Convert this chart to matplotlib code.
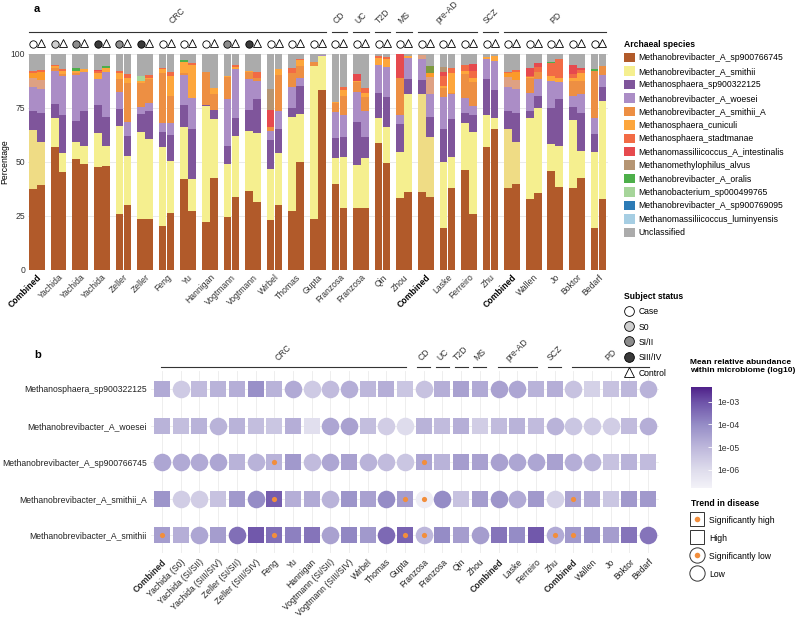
import numpy as np
import matplotlib
matplotlib.use('Agg')
from matplotlib import pyplot as plt
from matplotlib.lines import Line2D
from matplotlib.patches import Patch
from matplotlib.colors import LogNorm, LinearSegmentedColormap
from matplotlib.cm import ScalarMappable

plt.rcParams['font.family'] = ['Liberation Sans', 'DejaVu Sans']
plt.rcParams['font.size'] = 6.2

# ---------------- panel a data ----------------
species = ['Methanobrevibacter_A_sp900766745', 'Methanobrevibacter_A_smithii',
           'Methanosphaera_sp900322125', 'Methanobrevibacter_A_woesei',
           'Methanobrevibacter_A_smithii_A', 'Methanosphaera_cuniculi',
           'Methanosphaera_stadtmanae', 'Methanomassiliicoccus_A_intestinalis',
           'Methanomethylophilus_alvus', 'Methanobrevibacter_A_oralis',
           'Methanobacterium_sp000499765', 'Methanobrevibacter_A_sp900769095',
           'Methanomassiliicoccus_luminyensis', 'Unclassified']
codes = ['sp766', 'smi', 'sp322', 'woe', 'smiA', 'cun', 'sta', 'int', 'alv',
         'ora', 'sp499', 'sp769', 'lum']
species_colors = ['#b15a2a', '#f5ef8f', '#7f559b', '#ab8dc6', '#ed8f43', '#fda63c',
                  '#f26b45', '#e64a4e', '#b59573', '#4daf4a', '#a6d59a', '#2c7bb6',
                  '#a6cee3', '#ababab']
# combined bars are drawn a bit faded for some species
combined_colors = {'smi': '#efdc85', 'smiA': '#dea183', 'ora': '#7d9a3e', 'cun': '#fb9a29'}

a_labels = ['Combined', 'Yachida', 'Yachida', 'Yachida', 'Zeller', 'Zeller', 'Feng', 'Yu',
            'Hannigan', 'Vogtmann', 'Vogtmann', 'Wirbel', 'Thomas', 'Gupta', 'Franzosa',
            'Franzosa', 'Qin', 'Zhou', 'Combined', 'Laske', 'Ferreiro', 'Zhu', 'Combined',
            'Wallen', 'Jo', 'Boktor', 'Bedarf']
case_status = ['Case', 'S0', 'SI/II', 'SIII/IV', 'SI/II', 'SIII/IV', 'Case', 'Case', 'Case',
               'SI/II', 'SIII/IV', 'Case', 'Case', 'Case', 'Case', 'Case', 'Case', 'Case',
               'Case', 'Case', 'Case', 'Case', 'Case', 'Case', 'Case', 'Case', 'Case']
disease_groups = [('CRC', 0, 13), ('CD', 14, 14), ('UC', 15, 15), ('T2D', 16, 16),
                  ('MS', 17, 17), ('pre-AD', 18, 20), ('SCZ', 21, 21), ('PD', 22, 26)]

# cumulative top (%) of each species in the stack; the rest up to 100 is Unclassified
case_tops = [
    {'sp766': 37.7, 'smi': 64.8, 'sp322': 73.6, 'woe': 84.9, 'smiA': 89.0, 'cun': 91.0, 'sta': 92.3},
    {'sp766': 57.1, 'smi': 70.2, 'sp322': 76.9, 'woe': 92.3, 'smiA': 93.7, 'cun': 94.4, 'sta': 95.0},
    {'sp766': 51.2, 'smi': 59.4, 'sp322': 69.0, 'woe': 90.3, 'smiA': 91.2, 'cun': 92.3, 'ora': 93.4},
    {'sp766': 47.5, 'smi': 63.3, 'sp322': 76.4, 'woe': 88.3, 'cun': 91.0, 'sta': 92.0, 'int': 92.6},
    {'sp766': 25.9, 'smi': 66.7, 'sp322': 74.5, 'woe': 82.6, 'smiA': 88.3, 'cun': 91.4, 'sta': 92.0},
    {'sp766': 23.8, 'smi': 63.7, 'sp322': 72.2, 'woe': 75.6, 'smiA': 86.4, 'cun': 87.7, 'sp499': 90.0},
    {'sp766': 20.4, 'smi': 56.8, 'sp322': 64.0, 'woe': 68.2, 'smiA': 91.0, 'cun': 92.9, 'sta': 93.7},
    {'sp766': 42.1, 'smi': 66.0, 'sp322': 76.4, 'woe': 90.3, 'smiA': 91.0, 'cun': 96.1, 'ora': 97.2},
    {'sp766': 22.1, 'smi': 75.9, 'sp322': 76.2, 'smiA': 91.8},
    {'sp766': 24.4, 'smi': 48.9, 'sp322': 57.3, 'woe': 79.2, 'smiA': 89.5, 'cun': 90.0},
    {'sp766': 36.7, 'smi': 64.4, 'sp322': 74.1, 'woe': 88.3, 'smiA': 91.8, 'cun': 92.3},
    {'sp766': 23.1, 'smi': 46.8, 'sp322': 60.2, 'woe': 64.5, 'smiA': 66.4, 'int': 74.1, 'alv': 83.6},
    {'sp766': 27.3, 'smi': 70.7, 'sp322': 74.8, 'woe': 84.6, 'smiA': 91.4, 'sta': 93.4},
    {'sp766': 23.6, 'smi': 94.6, 'smiA': 96.5},
    {'sp766': 39.7, 'smi': 52.0, 'sp322': 61.3, 'woe': 73.3, 'smiA': 77.2, 'cun': 77.6, 'sta': 77.9},
    {'sp766': 28.9, 'smi': 48.6, 'sp322': 68.7, 'woe': 82.3, 'smiA': 86.9, 'cun': 87.5, 'int': 90.7},
    {'sp766': 58.6, 'smi': 70.5, 'sp322': 81.8, 'woe': 94.9, 'cun': 98.0, 'sta': 99.1},
    {'sp766': 33.5, 'smi': 54.5, 'sp322': 67.6, 'woe': 71.8, 'smiA': 89.0, 'int': 100.0},
    {'sp766': 36.0, 'smi': 81.3, 'sp322': 88.0, 'woe': 97.7, 'smiA': 99.5},
    {'sp766': 19.6, 'smi': 50.2, 'sp322': 65.3, 'woe': 79.9, 'smiA': 84.1, 'cun': 85.0, 'sta': 90.0, 'int': 91.5, 'alv': 93.8},
    {'sp766': 46.3, 'smi': 68.2, 'sp322': 72.5, 'woe': 79.5, 'smiA': 90.7, 'cun': 92.3, 'sta': 94.9},
    {'sp766': 57.1, 'smi': 71.8, 'sp322': 88.4, 'woe': 97.7, 'cun': 98.8},
    {'sp766': 37.8, 'smi': 65.1, 'sp322': 73.6, 'woe': 84.9, 'smiA': 89.2, 'cun': 91.0, 'sta': 91.8},
    {'sp766': 32.9, 'smi': 70.2, 'sp322': 73.8, 'woe': 81.8, 'smiA': 88.7, 'cun': 89.2, 'sta': 89.6, 'int': 93.4},
    {'sp766': 45.8, 'smi': 58.3, 'sp322': 75.2, 'woe': 87.5, 'cun': 89.8, 'sta': 95.7, 'ora': 96.5},
    {'sp766': 38.1, 'smi': 69.4, 'sp322': 75.3, 'woe': 80.7, 'smiA': 87.5, 'cun': 89.0, 'sta': 90.7, 'int': 94.9},
    {'sp766': 19.6, 'smi': 54.8, 'sp322': 63.0, 'woe': 70.5, 'smiA': 92.1, 'ora': 93.0},
]
ctrl_tops = [
    {'sp766': 39.5, 'smi': 59.4, 'sp322': 72.8, 'woe': 83.6, 'smiA': 88.0, 'cun': 91.5, 'sta': 92.6},
    {'sp766': 45.4, 'smi': 54.3, 'sp322': 71.8, 'woe': 90.0, 'smiA': 90.8, 'cun': 92.3, 'sta': 92.9},
    {'sp766': 49.1, 'smi': 57.4, 'sp322': 73.6, 'woe': 91.8, 'cun': 93.1},
    {'sp766': 48.1, 'smi': 57.4, 'sp322': 70.7, 'woe': 91.8, 'cun': 93.7, 'ora': 94.4},
    {'sp766': 29.9, 'smi': 52.8, 'sp322': 62.0, 'woe': 68.7, 'smiA': 86.7, 'cun': 88.7, 'sta': 90.7},
    {'sp766': 23.8, 'smi': 60.5, 'sp322': 73.6, 'woe': 77.2, 'smiA': 88.3, 'cun': 89.0, 'sta': 90.3},
    {'sp766': 26.5, 'smi': 50.5, 'sp322': 62.5, 'woe': 67.9, 'smiA': 80.6, 'cun': 89.8, 'sta': 91.5},
    {'sp766': 27.3, 'smi': 42.1, 'sp322': 65.3, 'woe': 79.5, 'cun': 94.9, 'sta': 95.7},
    {'sp766': 42.7, 'smi': 69.9, 'sp322': 74.1, 'smiA': 81.3, 'cun': 84.1},
    {'sp766': 33.6, 'smi': 62.0, 'sp322': 70.2, 'woe': 93.1, 'cun': 94.0, 'sta': 95.0},
    {'sp766': 31.3, 'smi': 63.6, 'sp322': 79.2, 'woe': 87.7, 'smiA': 88.7, 'sta': 91.8},
    {'sp766': 29.9, 'smi': 54.3, 'sp322': 65.3, 'woe': 73.6, 'smiA': 90.3, 'cun': 92.9},
    {'sp766': 50.2, 'smi': 72.1, 'sp322': 85.3, 'woe': 89.0, 'smiA': 94.6, 'cun': 97.2, 'sta': 97.8},
    {'sp766': 83.3, 'smi': 99.2, 'woe': 99.6},
    {'sp766': 28.5, 'smi': 52.5, 'sp322': 61.4, 'woe': 71.8, 'smiA': 80.7, 'cun': 83.3, 'sta': 84.9},
    {'sp766': 28.9, 'smi': 51.9, 'sp322': 61.7, 'woe': 73.6, 'smiA': 80.2, 'cun': 82.1, 'sta': 84.1},
    {'sp766': 49.4, 'smi': 66.0, 'sp322': 80.2, 'woe': 94.1, 'cun': 97.5, 'sta': 98.8},
    {'sp766': 36.0, 'smi': 81.3, 'sp322': 88.3, 'woe': 98.0, 'cun': 99.2},
    {'sp766': 33.6, 'smi': 61.7, 'sp322': 70.7, 'woe': 81.5, 'smiA': 89.2, 'cun': 91.0, 'ora': 94.4},
    {'sp766': 38.0, 'smi': 52.2, 'sp322': 69.8, 'woe': 81.3, 'smiA': 82.0, 'cun': 91.0, 'sta': 93.4},
    {'sp766': 25.9, 'smi': 63.7, 'sp322': 71.8, 'woe': 75.9, 'smiA': 86.9, 'cun': 89.0, 'sta': 92.0, 'int': 95.4},
    {'sp766': 65.3, 'smi': 70.2, 'sp322': 83.3, 'woe': 96.8, 'cun': 99.0},
    {'sp766': 39.7, 'smi': 59.4, 'sp322': 72.8, 'woe': 83.8, 'smiA': 88.0, 'cun': 91.5, 'sta': 92.6},
    {'sp766': 35.8, 'smi': 74.8, 'sp322': 80.7, 'woe': 88.4, 'smiA': 91.8, 'sta': 94.1, 'int': 95.7},
    {'sp766': 38.3, 'smi': 57.6, 'sp322': 79.2, 'woe': 86.9, 'cun': 88.7, 'sta': 97.7},
    {'sp766': 42.7, 'smi': 55.1, 'sp322': 72.8, 'woe': 81.3, 'smiA': 87.5, 'cun': 91.0, 'sta': 92.6, 'int': 93.4},
    {'sp766': 32.9, 'smi': 78.4, 'sp322': 84.9, 'woe': 90.3, 'smiA': 94.6},
]

# ---------------- panel b data ----------------
b_labels = ['Combined', 'Yachida (S0)', 'Yachida (SI/SII)', 'Yachida (SIII/SIV)',
            'Zeller (SI/SII)', 'Zeller (SIII/SIV)', 'Feng', 'Yu', 'Hannigan',
            'Vogtmann (SI/SII)', 'Vogtmann (SIII/SIV)', 'Wirbel', 'Thomas', 'Gupta',
            'Franzosa', 'Franzosa', 'Qin', 'Zhou', 'Combined', 'Laske', 'Ferreiro', 'Zhu',
            'Combined', 'Wallen', 'Jo', 'Boktor', 'Bedarf']
b_species = ['Methanosphaera_sp900322125', 'Methanobrevibacter_A_woesei',
             'Methanobrevibacter_A_sp900766745', 'Methanobrevibacter_A_smithii_A',
             'Methanobrevibacter_A_smithii']
# H = higher in disease (square), L = lower in disease (circle)
trend_sp322 = 'HLHHHHHLLLLHHHLHHHLLHHLHHHL'
trend_woesei = 'HHHLHHHHHLLHLLHHHHHHHLLLLHL'
trend_sp766 = 'LLLLHLHHLLHLLLHHHHLLLHLLHHH'
trend_smithiiA = 'HLLHHLHHHLHHLHLLHHLLHLHHHHH'
trend_smithii = 'HHLHLHHHHLHHLHLHHLHHHLHHHHL'
# log10 of mean relative abundance
abund_sp322 = [-4.7, -5.5, -5.1, -4.9, -4.8, -4.1, -4.9, -4.7, -5.5, -5.1, -4.8, -5.0, -4.8,
               -5.4, -5.3, -4.8, -4.5, -4.7, -4.5, -4.6, -4.9, -4.8, -5.3, -5.7, -5.3, -5.0, -4.9]
abund_woesei = [-4.9, -5.2, -4.9, -4.9, -4.9, -5.2, -5.4, -4.8, -6.1, -4.6, -4.5, -5.2, -5.6,
                -6.0, -4.9, -5.1, -4.8, -5.6, -5.1, -4.9, -5.1, -4.9, -5.4, -5.5, -5.6, -5.1, -4.8]
abund_sp766 = [-4.6, -4.7, -4.7, -4.6, -4.9, -4.9, -4.9, -4.3, -5.1, -4.6, -4.5, -4.9, -5.1,
               -5.4, -4.6, -4.9, -4.4, -4.5, -4.5, -4.6, -4.6, -4.5, -4.8, -4.9, -5.3, -4.9, -5.1]
abund_smithiiA = [-4.2, -5.6, -5.6, -5.3, -4.3, -4.0, -3.2, -4.8, -4.7, -4.9, -4.2, -4.5, -4.0,
                  -4.4, -6.6, -4.0, -5.3, -4.4, -4.2, -4.7, -4.3, -5.7, -4.5, -4.7, -5.4, -4.3, -4.3]
abund_smithii = [-4.4, -4.8, -4.6, -4.4, -3.5, -3.1, -3.5, -3.8, -3.6, -4.5, -3.9, -4.3, -3.4,
                 -3.3, -5.0, -4.0, -4.4, -4.4, -3.6, -4.0, -3.1, -4.7, -4.3, -4.0, -4.4, -3.6, -3.6]
# columns where the trend is significant
sig_sp322 = []
sig_woesei = []
sig_sp766 = [6, 14]
sig_smithiiA = [6, 13, 14, 22]
sig_smithii = [0, 6, 13, 14, 21, 22]

W, H = 798, 619
fig = plt.figure(figsize=(W / 100, H / 100), dpi=100)


def px_axes(x0, y0, x1, y1):
    return fig.add_axes([x0 / W, 1 - y1 / H, (x1 - x0) / W, (y1 - y0) / H])


# ================= panel a =================
ax = px_axes(28, 54, 608, 270)
n = len(a_labels)
bw = 0.355
off = 0.185
status_fill = {'Case': 'white', 'S0': '#cfcfcf', 'SI/II': '#8c8c8c', 'SIII/IV': '#3a3a3a'}


def draw_stack(x, tops, combined):
    prev = 0
    for code, col in zip(codes, species_colors):
        if code in tops:
            c = combined_colors.get(code, col) if combined else col
            ax.bar(x, tops[code] - prev, bottom=prev, width=bw, color=c, lw=0, zorder=2)
            prev = tops[code]
    if prev < 100:
        ax.bar(x, 100 - prev, bottom=prev, width=bw, color=species_colors[-1], lw=0, zorder=2)


for g in range(n):
    comb = a_labels[g] == 'Combined'
    draw_stack(g - off, case_tops[g], comb)
    draw_stack(g + off, ctrl_tops[g], comb)
    ax.plot(g - off, 104.7, marker='o', ms=5.3, mfc=status_fill[case_status[g]], mec='black',
            mew=0.6, clip_on=False, ls='')
    ax.plot(g + off, 104.9, marker='^', ms=5.8, mfc='white', mec='black', mew=0.6,
            clip_on=False, ls='')

ax.set_xlim(-0.42, 26.44)
ax.set_ylim(0, 100)
ax.set_yticks([0, 25, 50, 75, 100])
ax.yaxis.grid(True, color='#e6e6e6', lw=0.6, zorder=0)
ax.set_axisbelow(True)
for s in ax.spines.values():
    s.set_visible(False)
ax.tick_params(axis='both', length=0, pad=2, labelcolor='#333333')
ax.set_xticks(np.arange(n))
ax.set_xticklabels(a_labels, rotation=45, ha='right', rotation_mode='anchor')
for t in ax.get_xticklabels():
    if t.get_text() == 'Combined':
        t.set_fontweight('bold')
        t.set_color('black')
ax.set_ylabel('Percentage', labelpad=1)

for name, g0, g1 in disease_groups:
    x0 = g0 - off - bw / 2
    x1 = g1 + off + bw / 2
    ax.plot([x0, x1], [110.2, 110.2], color='#333333', lw=0.8, clip_on=False)
    ax.text((x0 + x1) / 2, 113.2, name, rotation=45, ha='center', va='bottom',
            color='#333333', clip_on=False)

fig.text(34 / W, 1 - 9 / H, 'a', fontsize=8, fontweight='bold', va='center')

# species legend
sp_handles = [Patch(facecolor=c, edgecolor='none') for c in species_colors]
leg1 = fig.legend(sp_handles, species, loc='upper left', bbox_to_anchor=(624 / W, 1 - 40 / H),
                  frameon=False, borderpad=0, borderaxespad=0, handlelength=1.3,
                  handleheight=1.3, handletextpad=0.4, labelspacing=0.45,
                  title='Archaeal species', title_fontproperties={'weight': 'bold', 'size': 6.2},
                  alignment='left')

# subject status legend
st_handles = [Line2D([], [], marker='o', ms=7, mfc=status_fill[k], mec='black', mew=0.6, ls='')
              for k in ['Case', 'S0', 'SI/II', 'SIII/IV']]
st_handles.append(Line2D([], [], marker='^', ms=7.5, mfc='white', mec='black', mew=0.6, ls=''))
leg2 = fig.legend(st_handles, ['Case', 'S0', 'SI/II', 'SIII/IV', 'Control'], loc='upper left',
                  bbox_to_anchor=(624 / W, 1 - 292 / H), frameon=False, borderpad=0,
                  borderaxespad=0, handlelength=1.2, handleheight=1.2, handletextpad=0.5,
                  labelspacing=0.7, title='Subject status',
                  title_fontproperties={'weight': 'bold', 'size': 6.2}, alignment='left')

# ================= panel b =================
axb = px_axes(150.8, 370.75, 659.4, 553.25)
norm = LogNorm(vmin=10 ** -6.8, vmax=10 ** -2.35)
cmap = LinearSegmentedColormap.from_list(
    'pu', [(0.0, '#f3f2f8'), (0.18, '#dedcec'), (0.405, '#bdb7db'), (0.63, '#958cc6'),
           (0.85, '#6e53a9'), (1.0, '#4f2189')])
orange = '#f28e3c'

rows = [(trend_sp322, abund_sp322, sig_sp322),
        (trend_woesei, abund_woesei, sig_woesei),
        (trend_sp766, abund_sp766, sig_sp766),
        (trend_smithiiA, abund_smithiiA, sig_smithiiA),
        (trend_smithii, abund_smithii, sig_smithii)]
for r, (trend, abund, sig) in enumerate(rows):
    y = len(rows) - 1 - r
    cols = cmap(norm(10 ** np.array(abund)))
    for i, t in enumerate(trend):
        if t == 'H':
            axb.scatter(i, y, s=122, marker='s', color=cols[i], lw=0, zorder=3)
        else:
            axb.scatter(i, y, s=160, marker='o', color=cols[i], lw=0, zorder=3)
    if sig:
        axb.scatter(sig, [y] * len(sig), s=14, color=orange, lw=0, zorder=4)

axb.set_xlim(-0.6, 26.6)
axb.set_ylim(-0.5, 4.5)
axb.set_xticks(np.arange(len(b_labels)))
axb.set_xticklabels(b_labels, rotation=45, ha='right', rotation_mode='anchor')
for t in axb.get_xticklabels():
    if t.get_text() == 'Combined':
        t.set_fontweight('bold')
axb.set_yticks(np.arange(len(b_species)))
axb.set_yticklabels(b_species[::-1])
axb.grid(True, color='#ebebeb', lw=0.6, zorder=0)
axb.set_axisbelow(True)
for s in axb.spines.values():
    s.set_visible(False)
axb.tick_params(axis='both', length=0, pad=3, labelcolor='#222222')

for name, g0, g1 in disease_groups:
    x0 = g0 - 0.35 if g0 == g1 else g0 - 0.05
    x1 = g1 + 0.35 if g0 == g1 else g1 + 0.05
    axb.plot([x0, x1], [4.6, 4.6], color='#333333', lw=0.8, clip_on=False)
    axb.text((x0 + x1) / 2, 4.72, name, rotation=45, ha='center', va='bottom',
             color='#333333', clip_on=False)

fig.text(34 / W, 1 - 355 / H, 'b', fontsize=8, fontweight='bold', va='center')

# colorbar
cax = px_axes(691, 387, 712, 488)
cb = fig.colorbar(ScalarMappable(norm=norm, cmap=cmap), cax=cax)
cb.outline.set_visible(False)
cax.minorticks_off()
cb.set_ticks([1e-3, 1e-4, 1e-5, 1e-6])
cb.set_ticklabels(['1e-03', '1e-04', '1e-05', '1e-06'])
cax.tick_params(direction='in', color='white', length=3, width=0.6, pad=4, labelcolor='#333333')
fig.text(690 / W, 1 - 359 / H, 'Mean relative abundance\nwithin microbiome (log10)',
         fontweight='bold', fontsize=6.0, va='top', ha='left', linespacing=1.1)

# trend legend
sq = Line2D([], [], marker='s', ms=10, mfc='white', mec='#333333', mew=0.7, ls='')
ci = Line2D([], [], marker='o', ms=11, mfc='white', mec='#333333', mew=0.7, ls='')
dot = Line2D([], [], marker='o', ms=4, mfc=orange, mec='none', ls='')
leg3 = fig.legend([(sq, dot), sq, (ci, dot), ci],
                  ['Significantly high', 'High', 'Significantly low', 'Low'],
                  loc='upper left', bbox_to_anchor=(691 / W, 1 - 499 / H), frameon=False,
                  borderpad=0, borderaxespad=0, handlelength=1.5, handleheight=1.5,
                  handletextpad=0.6, labelspacing=0.85, title='Trend in disease',
                  title_fontproperties={'weight': 'bold', 'size': 6.2}, alignment='left')

fig.savefig('out.png', dpi=100)
